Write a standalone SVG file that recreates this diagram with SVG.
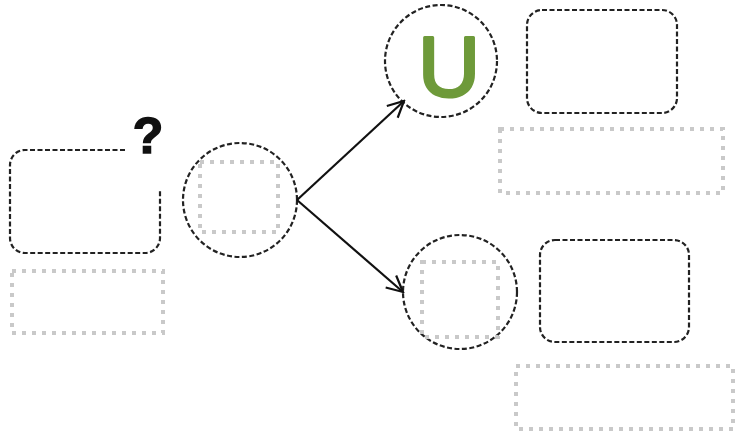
<svg xmlns="http://www.w3.org/2000/svg" width="735" height="434" viewBox="0 0 735 434">
<defs>
<style>
.dash{fill:none;stroke:#222;stroke-width:2.2;stroke-dasharray:5 2.5}
.dot{fill:none;stroke:#c9c9c9;stroke-width:4;stroke-dasharray:4 6}
.conn{fill:none;stroke:#111;stroke-width:2.2}
</style>
<marker id="arr" viewBox="0 0 20 20" refX="18" refY="10" markerWidth="20" markerHeight="20" markerUnits="userSpaceOnUse" orient="auto">
<path d="M2,2 L18,10 L2,18" fill="none" stroke="#111" stroke-width="2.2"/>
</marker>
</defs>
<rect width="735" height="434" fill="#fff"/>
<g id="left-box">
<path class="dash" d="M125,150 H25 A15,15 0 0 0 10,165 V238 A15,15 0 0 0 25,253 H145 A15,15 0 0 0 160,238 V190"/>
<text x="148" y="153" text-anchor="middle" font-family="Liberation Sans, Arial, sans-serif" font-weight="bold" font-size="50" fill="#111" stroke="#111" stroke-width="1.5">?</text>
</g>
<g id="left-label"><rect class="dot" x="12" y="271" width="151" height="62"/></g>
<g id="circle-mid">
<circle class="dash" cx="240" cy="200" r="57"/>
<rect class="dot" x="200" y="162" width="78" height="70"/>
</g>
<g id="circle-top">
<circle class="dash" cx="441" cy="61" r="56"/>
<text x="449" y="96" text-anchor="middle" font-family="Liberation Sans, Arial, sans-serif" font-size="86" fill="#6e9a3a" stroke="#6e9a3a" stroke-width="3" stroke-linejoin="round" stroke-linecap="round">U</text>
</g>
<g id="box-top-right"><rect class="dash" x="527" y="10" width="150" height="103" rx="15"/></g>
<g id="label-top-right"><rect class="dot" x="500" y="129" width="223" height="64"/></g>
<g id="circle-bottom">
<circle class="dash" cx="460" cy="292" r="57"/>
<rect class="dot" x="422" y="262" width="76" height="75"/>
</g>
<g id="box-bottom-right"><rect class="dash" x="540" y="240" width="149" height="102" rx="15"/></g>
<g id="label-bottom-right"><rect class="dot" x="516" y="366" width="217" height="63"/></g>
<g id="connectors">
<path class="conn" d="M297,200 L404,101" marker-end="url(#arr)"/>
<path class="conn" d="M297,200 L403,292" marker-end="url(#arr)"/>
</g>
</svg>
